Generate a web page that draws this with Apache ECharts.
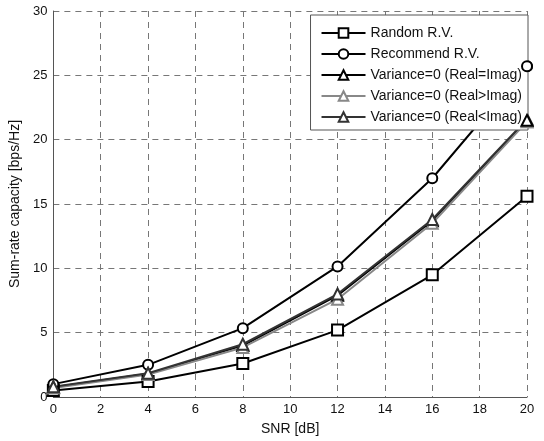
<!DOCTYPE html>
<html>
<head>
<meta charset="utf-8">
<script src="https://cdn.jsdelivr.net/npm/echarts@6/dist/echarts.min.js"></script>
<style>
  html, body { margin: 0; padding: 0; background: #fff; }
  #chart { width: 544px; height: 441px; }
</style>
</head>
<body>
<div id="chart"></div>
<script>
// SNR points (dB)
var snr = [0, 4, 8, 12, 16, 20]
var randomRV = [0.5, 1.2, 2.6, 5.2, 9.5, 15.6]
var recommendRV = [1.0, 2.5, 5.35, 10.15, 17.0, 25.7]
var varEq = [0.75, 1.8, 4.0, 7.9, 13.7, 21.5]
var varGt = [0.7, 1.75, 3.85, 7.6, 13.5, 21.4]
var varLt = [0.8, 1.85, 4.1, 8.0, 13.8, 21.6]

var names = [
  'Random R.V.',
  'Recommend R.V.',
  'Variance=0 (Real=Imag)',
  'Variance=0 (Real>Imag)',
  'Variance=0 (Real<Imag)'
]

function pairs (ys) {
  return snr.map(function (x, i) { return [x, ys[i]] })
}

function mkSeries (name, ys, symbol, color, size) {
  return {
    name: name,
    type: 'line',
    data: pairs(ys),
    symbol: symbol,
    symbolSize: size,
    showAllSymbol: true,
    lineStyle: { color: color, width: 2 },
    itemStyle: { color: '#fff', borderColor: color, borderWidth: 2 },
    emphasis: { disabled: true },
    animation: false
  }
}

// the markers at the last point sit on top of the legend box in the original
function lastMarker (ys, symbol, color, size) {
  var n = snr.length - 1
  return {
    type: 'scatter',
    data: [[snr[n], ys[n]]],
    symbol: symbol,
    symbolSize: size,
    z: 10,
    itemStyle: { color: '#fff', borderColor: color, borderWidth: 2, opacity: 1 },
    emphasis: { disabled: true },
    animation: false
  }
}

var chart = echarts.init(document.getElementById('chart'))
chart.setOption({
  backgroundColor: '#fff',
  textStyle: { fontFamily: 'Liberation Sans, Arial, sans-serif' },
  grid: { left: 53, right: 17, top: 11, bottom: 43 },
  legend: {
    data: names,
    orient: 'vertical',
    right: 16,
    top: 15,
    itemWidth: 44,
    itemHeight: 12,
    itemGap: 7,
    backgroundColor: '#fff',
    borderColor: '#555',
    borderWidth: 1,
    borderRadius: 0,
    padding: [11, 6, 6, 10],
    textStyle: { color: '#111', fontSize: 14 }
  },
  xAxis: {
    type: 'value',
    min: 0,
    max: 20,
    interval: 2,
    name: 'SNR [dB]',
    nameLocation: 'middle',
    nameGap: 25,
    nameTextStyle: { color: '#111', fontSize: 14 },
    axisLine: { onZero: false, lineStyle: { color: '#555' } },
    axisTick: { show: false },
    axisLabel: { color: '#111', fontSize: 13, margin: 6 },
    splitLine: { show: true, lineStyle: { color: '#777', type: [6, 5], width: 1 } }
  },
  yAxis: {
    type: 'value',
    min: 0,
    max: 30,
    interval: 5,
    name: 'Sum-rate capacity [bps/Hz]',
    nameLocation: 'middle',
    nameGap: 30,
    nameTextStyle: { color: '#111', fontSize: 14 },
    axisLine: { show: true, lineStyle: { color: '#555' } },
    axisTick: { show: false },
    axisLabel: { color: '#111', fontSize: 13, margin: 6 },
    splitLine: { show: true, lineStyle: { color: '#777', type: [6, 5], width: 1 } }
  },
  series: [
    mkSeries(names[0], randomRV, 'rect', '#000', 11),
    mkSeries(names[1], recommendRV, 'circle', '#000', 10),
    mkSeries(names[2], varEq, 'triangle', '#000', 11),
    mkSeries(names[3], varGt, 'triangle', '#888', 11),
    mkSeries(names[4], varLt, 'triangle', '#333', 11),
    lastMarker(recommendRV, 'circle', '#000', 10),
    lastMarker(varGt, 'triangle', '#888', 11),
    lastMarker(varEq, 'triangle', '#000', 11)
  ]
})
</script>
</body>
</html>
